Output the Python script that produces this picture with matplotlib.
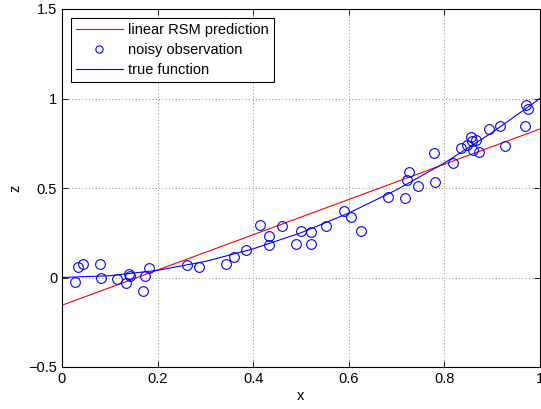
import matplotlib
matplotlib.use("Agg")
import matplotlib.pyplot as plt

plt.rcParams['font.family'] = ['Liberation Sans', 'DejaVu Sans']

# linear RSM prediction (endpoints)
rsm_x = [0.0, 1.0]
rsm_z = [-0.155, 0.83]

# true function
true_x = [0.0, 0.1, 0.2, 0.3, 0.4, 0.5, 0.6, 0.7, 0.8, 0.9, 1.0]
true_z = [0.0, 0.01, 0.04, 0.09, 0.16, 0.25, 0.36, 0.49, 0.64, 0.81, 1.0]

# noisy observations
obs_x = [0.028, 0.034, 0.044, 0.079, 0.082, 0.115, 0.134, 0.140, 0.143, 0.169,
         0.174, 0.183, 0.262, 0.287, 0.343, 0.360, 0.385, 0.415, 0.434, 0.434,
         0.461, 0.489, 0.501, 0.521, 0.521, 0.552, 0.591, 0.605, 0.626, 0.681,
         0.718, 0.722, 0.726, 0.745, 0.779, 0.781, 0.818, 0.834, 0.848, 0.856,
         0.858, 0.860, 0.867, 0.872, 0.893, 0.916, 0.926, 0.968, 0.971, 0.974]
obs_z = [-0.024, 0.058, 0.073, 0.073, -0.002, -0.007, -0.030, 0.022, 0.011, -0.074,
         0.011, 0.054, 0.069, 0.058, 0.073, 0.114, 0.151, 0.296, 0.231, 0.183,
         0.290, 0.186, 0.259, 0.255, 0.188, 0.285, 0.369, 0.339, 0.257, 0.451,
         0.445, 0.547, 0.588, 0.510, 0.693, 0.532, 0.641, 0.725, 0.743, 0.786,
         0.762, 0.715, 0.767, 0.702, 0.831, 0.845, 0.734, 0.849, 0.966, 0.939]

xticks = [0, 0.2, 0.4, 0.6, 0.8, 1]
xticklabels = ['0', '0.2', '0.4', '0.6', '0.8', '1']
yticks = [-0.5, 0, 0.5, 1, 1.5]
yticklabels = ['\u22120.5', '0', '0.5', '1', '1.5']

fig = plt.figure(figsize=(5.41, 4.09), dpi=100)
ax = fig.add_axes([62/541, 1 - 367/409, (540-62)/541, (367-9)/409])

ax.plot(rsm_x, rsm_z, color='red', lw=0.8, label='linear RSM prediction')
ax.plot(obs_x, obs_z, linestyle='none', marker='o', markersize=7, markerfacecolor='none',
        markeredgecolor='blue', markeredgewidth=0.8, label='noisy observation')
ax.plot(true_x, true_z, color='blue', lw=0.8, label='true function')

ax.set_xlim(0, 1)
ax.set_ylim(-0.5, 1.5)
ax.set_xticks(xticks)
ax.set_xticklabels(xticklabels)
ax.set_yticks(yticks)
ax.set_yticklabels(yticklabels)
ax.tick_params(direction='in', top=True, right=True, labelsize=10.5, length=4, width=0.6)
ax.grid(True, linestyle=(0, (1, 3)), color='#666666', lw=0.6)
for s in ax.spines.values():
    s.set_linewidth(0.8)

ax.set_xlabel('x', fontsize=10.5, labelpad=2)
ax.set_ylabel('z', fontsize=10.5, labelpad=4)

leg = ax.legend(loc='upper left', fontsize=10.5, frameon=True, fancybox=False,
                edgecolor='black', framealpha=1, borderpad=0.35, handlelength=3.2,
                handletextpad=0.4, labelspacing=0.42, borderaxespad=0.6, markerscale=0.75)
leg.get_frame().set_linewidth(0.8)

fig.savefig('out.png', dpi=100)
